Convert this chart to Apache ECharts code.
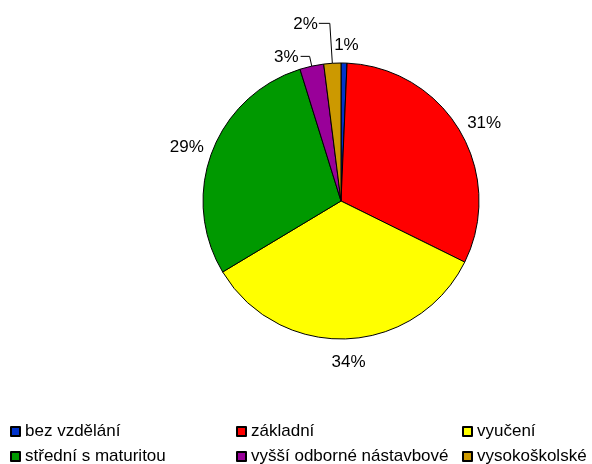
<!DOCTYPE html>
<html><head><meta charset="utf-8">
<script src="https://cdn.jsdelivr.net/npm/echarts@6/dist/echarts.min.js"></script>
<style>html,body{margin:0;padding:0;background:#fff}#c{width:592px;height:464px}</style>
</head><body><div id="c"></div>
<script>
const categories = ['bez vzdělání', 'základní', 'vyučení', 'střední s maturitou', 'vyšší odborné nástavbové', 'vysokoškolské'];
const values = [0.7, 31.6, 34.1, 28.8, 2.8, 2.0];
const colors = ['#0033CC', '#FF0000', '#FFFF00', '#009900', '#990099', '#CC9900'];
const legendColumns = [[0, 3], [1, 4], [2, 5]];

// label placement styling (per slice index)
const labelStyle = [
  { line: false, len: 18, len2: 0, dist: 0, dx: 2, dy: 0 },
  { line: false, len: 26, len2: 0, dist: 0, dx: 2, dy: 6 },
  { line: false, len: 23, len2: 0, dist: 0, dx: 1, dy: 0 },
  { line: false, len: 26, len2: 0, dist: 0, dx: -1, dy: 5 },
  { line: true, len: 10, len2: 9, dist: 2, dx: 0, dy: 1 },
  { line: true, len: 40, len2: 11, dist: 2, dx: 1, dy: 1 }
];
const legendLeft = [10, 236, 462];
const font = 'Liberation Sans, Arial, sans-serif';

const chart = echarts.init(document.getElementById('c'), null, { renderer: 'canvas' });
chart.setOption({
  animation: false,
  backgroundColor: '#fff',
  legend: legendColumns.map((col, k) => ({
    data: col.map(i => categories[i]),
    orient: 'vertical',
    left: legendLeft[k],
    top: 423,
    height: 60,
    width: 220,
    itemWidth: 9,
    itemHeight: 9,
    itemGap: 8,
    icon: 'rect',
    padding: 0,
    selectedMode: false,
    textStyle: { fontSize: 17, color: '#000', fontFamily: font }
  })),
  series: [{
    type: 'pie',
    center: [341, 201],
    radius: 138,
    startAngle: 90,
    clockwise: true,
    avoidLabelOverlap: false,
    percentPrecision: 0,
    itemStyle: { borderColor: '#000', borderWidth: 1 },
    label: {
      show: true,
      position: 'outside',
      formatter: '{d}%',
      fontSize: 17,
      color: '#000',
      fontFamily: font
    },
    labelLine: { lineStyle: { color: '#000', width: 1 } },
    labelLayout: function (p) {
      const s = labelStyle[p.dataIndex];
      const o = { dx: s.dx, dy: s.dy };
      if (p.dataIndex <= 3) { o.align = 'center'; o.verticalAlign = 'middle'; }
      return o;
    },
    emphasis: { disabled: true },
    data: categories.map((name, i) => ({
      name: name,
      value: values[i],
      itemStyle: { color: colors[i] },
      label: { distanceToLabelLine: labelStyle[i].dist },
      labelLine: { show: labelStyle[i].line, length: labelStyle[i].len, length2: labelStyle[i].len2 }
    }))
  }]
});
</script></body></html>
